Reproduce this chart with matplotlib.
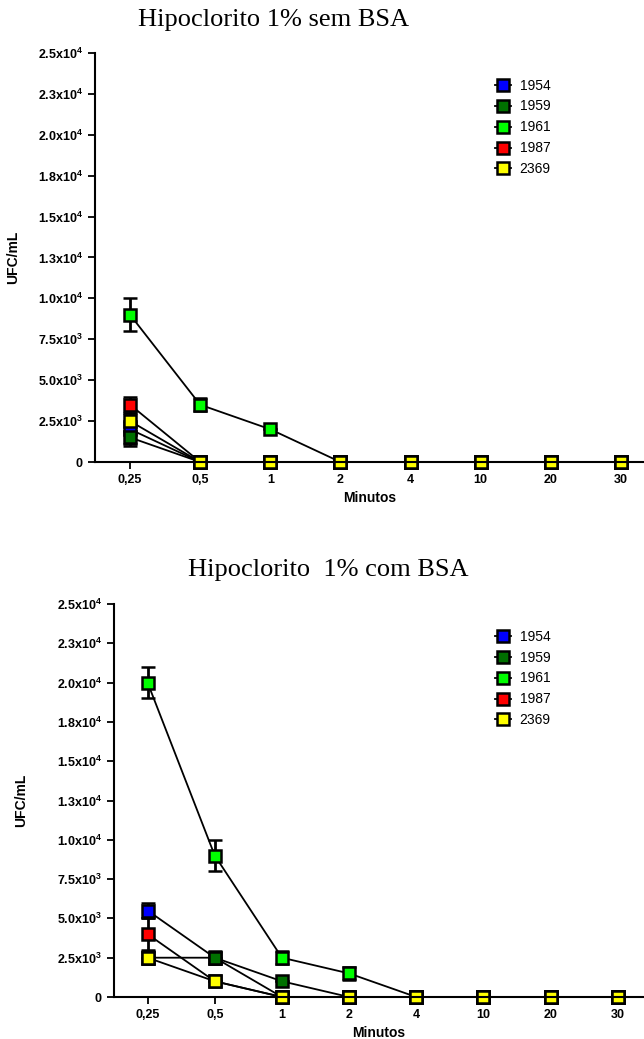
import matplotlib
matplotlib.use("Agg")
import matplotlib.pyplot as plt
from matplotlib.lines import Line2D

plt.rcParams['font.family'] = ['Liberation Sans', 'DejaVu Sans']
plt.rcParams['mathtext.fontset'] = 'custom'
plt.rcParams['mathtext.rm'] = 'Liberation Sans'
plt.rcParams['mathtext.bf'] = 'Liberation Sans:bold'

# dados
minutos = ['0,25', '0,5', '1', '2', '4', '10', '20', '30']
cepas = ['1954', '1959', '1961', '1987', '2369']
cores = ['#0000ff', '#007000', '#00ff00', '#ff0000', '#ffff00']

sem_bsa = {
    '1954': [2000, 0, 0, 0, 0, 0, 0, 0],
    '1959': [1500, 0, 0, 0, 0, 0, 0, 0],
    '1961': [9000, 3500, 2000, 0, 0, 0, 0, 0],
    '1987': [3500, 0, 0, 0, 0, 0, 0, 0],
    '2369': [2500, 0, 0, 0, 0, 0, 0, 0],
}
sem_bsa_err = {
    '1954': [1000, 0, 0, 0, 0, 0, 0, 0],
    '1959': [400, 0, 0, 0, 0, 0, 0, 0],
    '1961': [1000, 400, 0, 0, 0, 0, 0, 0],
    '1987': [500, 0, 0, 0, 0, 0, 0, 0],
    '2369': [0, 0, 0, 0, 0, 0, 0, 0],
}
com_bsa = {
    '1954': [5500, 2500, 0, 0, 0, 0, 0, 0],
    '1959': [2500, 2500, 1000, 0, 0, 0, 0, 0],
    '1961': [20000, 9000, 2500, 1500, 0, 0, 0, 0],
    '1987': [4000, 1000, 0, 0, 0, 0, 0, 0],
    '2369': [2500, 1000, 0, 0, 0, 0, 0, 0],
}
com_bsa_err = {
    '1954': [500, 0, 0, 0, 0, 0, 0, 0],
    '1959': [400, 400, 0, 0, 0, 0, 0, 0],
    '1961': [1000, 1000, 400, 400, 0, 0, 0, 0],
    '1987': [1000, 0, 0, 0, 0, 0, 0, 0],
    '2369': [0, 0, 0, 0, 0, 0, 0, 0],
}

yticks = [0, 2500, 5000, 7500, 10000, 12500, 15000, 17500, 20000, 22500, 25000]
ylabels = ['0', '2.5x10^3', '5.0x10^3', '7.5x10^3', '1.0x10^4', '1.3x10^4',
           '1.5x10^4', '1.8x10^4', '2.0x10^4', '2.3x10^4', '2.5x10^4']


def painel(ax, dados, erros, xlim_dir, ylab_x):
    x = list(range(len(minutos)))
    for c, cor in zip(cepas, cores):
        ax.errorbar(x, dados[c], yerr=erros[c], color='black', lw=1.3,
                    marker='s', ms=9, mfc=cor, mec='black', mew=1.8,
                    elinewidth=2, capsize=5, capthick=2, clip_on=False)
    ax.set_xlim(-0.5, xlim_dir)
    ax.set_ylim(0, 25000)
    ax.set_xticks(x)
    ax.set_xticklabels(minutos, fontweight='bold', fontsize=9)
    ax.set_yticks(yticks)
    lab = []
    for t in ylabels:
        if '^' in t:
            a, b = t.split('^')
            lab.append(r'$\mathbf{' + a + '^{' + b + '}}$')
        else:
            lab.append(r'$\mathbf{' + t + '}$')
    ax.set_yticklabels(lab, fontsize=9)
    for s in ['top', 'right']:
        ax.spines[s].set_visible(False)
    for s in ['left', 'bottom']:
        ax.spines[s].set_linewidth(1.5)
    ax.tick_params(width=1.3, length=5, direction='out')
    ax.set_xlabel('Minutos', fontweight='bold', fontsize=10, labelpad=4)
    ax.set_ylabel('UFC/mL', fontweight='bold', fontsize=10)
    ax.yaxis.set_label_coords(ylab_x, 0.5)


fig = plt.figure(figsize=(6.44, 10.39), dpi=100)
ax1 = fig.add_axes([95 / 644, 1 - 462 / 1039, 549 / 644, 409 / 1039])
ax2 = fig.add_axes([114 / 644, 1 - 997 / 1039, 530 / 644, 393 / 1039])

painel(ax1, sem_bsa, sem_bsa_err, 7.33, -0.137)
painel(ax2, com_bsa, com_bsa_err, 7.39, -0.162)

fig.text(274 / 644, 1 - 20 / 1039, 'Hipoclorito 1% sem BSA', ha='center', va='center',
         family='Liberation Serif', fontsize=19)
fig.text(328 / 644, 1 - 570 / 1039, 'Hipoclorito  1% com BSA', ha='center', va='center',
         family='Liberation Serif', fontsize=19)

handles = [Line2D([], [], color='black', lw=1.3, marker='s', ms=9, mfc=cor, mec='black', mew=1.8)
           for cor in cores]
for topo in [73, 624]:
    fig.legend(handles, cepas, loc='upper left', bbox_to_anchor=(489 / 644, 1 - topo / 1039),
               frameon=False, fontsize=10, handlelength=1.2, handletextpad=0.6,
               labelspacing=0.5, borderaxespad=0)

fig.savefig('out.png', dpi=100)
